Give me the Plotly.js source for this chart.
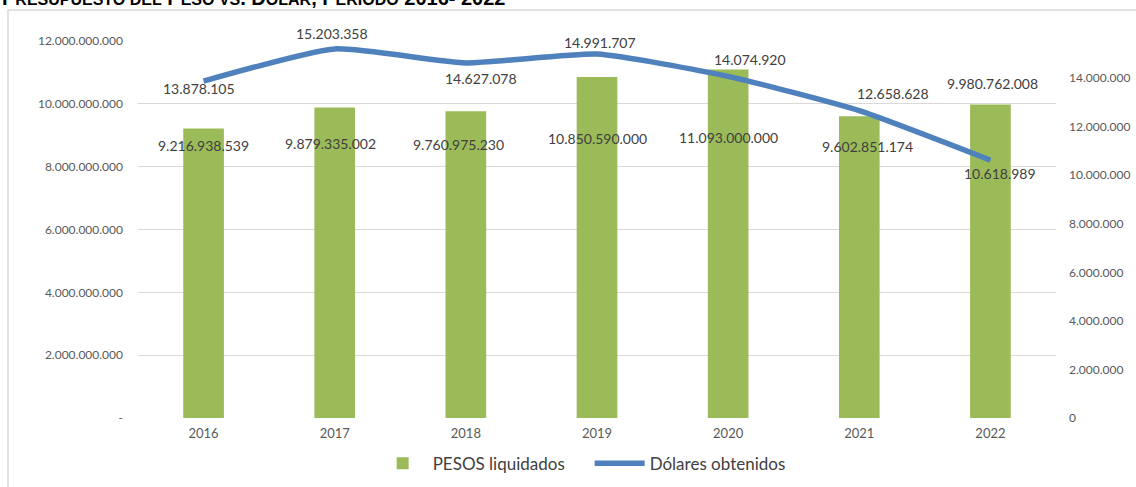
<!DOCTYPE html>
<html>
<head>
<meta charset="utf-8">
<script src="https://cdn.plot.ly/plotly-3.0.1.min.js"></script>
<style>html,body{margin:0;padding:0;background:#fff;}#chart{width:1136px;height:487px;}</style>
</head>
<body>
<div id="chart"></div>
<script>
// ---- data ----
const years = ['2016','2017','2018','2019','2020','2021','2022'];
const pesosLiquidados = [9216938539, 9879335002, 9760975230, 10850590000, 11093000000, 9602851174, 9980762008];
const dolaresObtenidos = [13878105, 15203358, 14627078, 14991707, 14074920, 12658628, 10618989];
const leftTickVals = [0, 2000000000, 4000000000, 6000000000, 8000000000, 10000000000, 12000000000];
const leftTickText = ['-', '2.000.000.000', '4.000.000.000', '6.000.000.000', '8.000.000.000', '10.000.000.000', '12.000.000.000'];
const rightTickVals = [0, 2000000, 4000000, 6000000, 8000000, 10000000, 12000000, 14000000];
const rightTickText = ['0', '2.000.000', '4.000.000', '6.000.000', '8.000.000', '10.000.000', '12.000.000', '14.000.000'];

// label placement offsets (pixels) — layout only
const barLblDx = [0, -4, -7, 0, 0, 8, 2];
const barLblDy = [-17, -36, -33, -61, -68, -30, 21];
const lineLblDx = [-5, -3, 15, 3, 22, 34, 10];
const lineLblDy = [-7, 15, -16, 12, 17, 17, -13];

function fmt(v) { return String(v).replace(/\B(?=(\d{3})+(?!\d))/g, '.'); }

const FONT = 'Lato, "Open Sans", sans-serif';

const traces = [
  {
    type: 'bar', name: 'PESOS liquidados', x: years, y: pesosLiquidados,
    marker: {color: '#9BBB59'}, yaxis: 'y'
  },
  {
    type: 'scatter', mode: 'lines', name: 'Dólares obtenidos', x: years, y: dolaresObtenidos,
    line: {color: '#4F81BD', width: 5.5, shape: 'spline', smoothing: 0.5}, yaxis: 'y2'
  }
];

const annotations = [];
years.forEach((yr, i) => {
  annotations.push({
    x: i, y: pesosLiquidados[i], xref: 'x', yref: 'y', text: fmt(pesosLiquidados[i]),
    showarrow: false, xshift: barLblDx[i], yshift: barLblDy[i],
    font: {family: FONT, size: 14, color: '#404040'}
  });
  annotations.push({
    x: i, y: dolaresObtenidos[i], xref: 'x', yref: 'y2', text: fmt(dolaresObtenidos[i]),
    showarrow: false, xshift: lineLblDx[i], yshift: lineLblDy[i],
    font: {family: FONT, size: 14, color: '#404040'}
  });
});

const S = "<span style='font-size:16px'>";
annotations.push({
  xref: 'paper', yref: 'paper', x: -0.1503, y: 1.0796, xanchor: 'left', yanchor: 'bottom',
  showarrow: false,
  text: '<b>P' + S + 'RESUPUESTO DEL</span> P' + S + 'ESO VS</span>. D' + S + 'ÓLAR</span>, P' + S + 'ERIODO</span> 2016- 2022</b>',
  font: {family: '"Liberation Sans", Arial, sans-serif', size: 20, color: '#000'}
});

const layout = {
  width: 1136, height: 487,
  margin: {l: 138, r: 80, t: 41, b: 69},
  paper_bgcolor: '#fff', plot_bgcolor: '#fff',
  font: {family: FONT, color: '#595959'},
  bargap: 0.69,
  showlegend: true,
  legend: {
    orientation: 'h', xref: 'paper', x: 0.492, xanchor: 'center',
    yref: 'container', y: 0.085, yanchor: 'top',
    font: {family: FONT, size: 17, color: '#404040'}, itemwidth: 50,
    entrywidth: 152, entrywidthmode: 'pixels'
  },
  xaxis: {
    type: 'category', range: [-0.5, 6.5], autorange: false,
    showgrid: false, zeroline: false, showline: false,
    tickfont: {family: FONT, size: 13, color: '#595959'}, ticks: '', ticklabelstandoff: 6
  },
  yaxis: {
    range: [0, 12000000000], autorange: false, tickvals: leftTickVals, ticktext: leftTickText,
    showgrid: true, gridcolor: '#D9D9D9', gridwidth: 1, zeroline: false, showline: false,
    tickfont: {family: FONT, size: 12, color: '#595959'}, ticks: '', ticklabelstandoff: 14
  },
  yaxis2: {
    overlaying: 'y', side: 'right', range: [0, 15530000], autorange: false,
    tickvals: rightTickVals, ticktext: rightTickText,
    showgrid: false, zeroline: false, showline: false,
    tickfont: {family: FONT, size: 12, color: '#595959'}, ticks: '', ticklabelstandoff: 12
  },
  shapes: [{
    type: 'rect', xref: 'paper', yref: 'paper', x0: -0.1416, x1: 1.0915, y0: -0.191, y1: 1.0822,
    line: {color: '#D9D9D9', width: 1.5}, fillcolor: 'rgba(0,0,0,0)', layer: 'below'
  }],
  annotations: annotations
};

Plotly.newPlot('chart', traces, layout, {displayModeBar: false, staticPlot: true});
</script>
</body>
</html>
